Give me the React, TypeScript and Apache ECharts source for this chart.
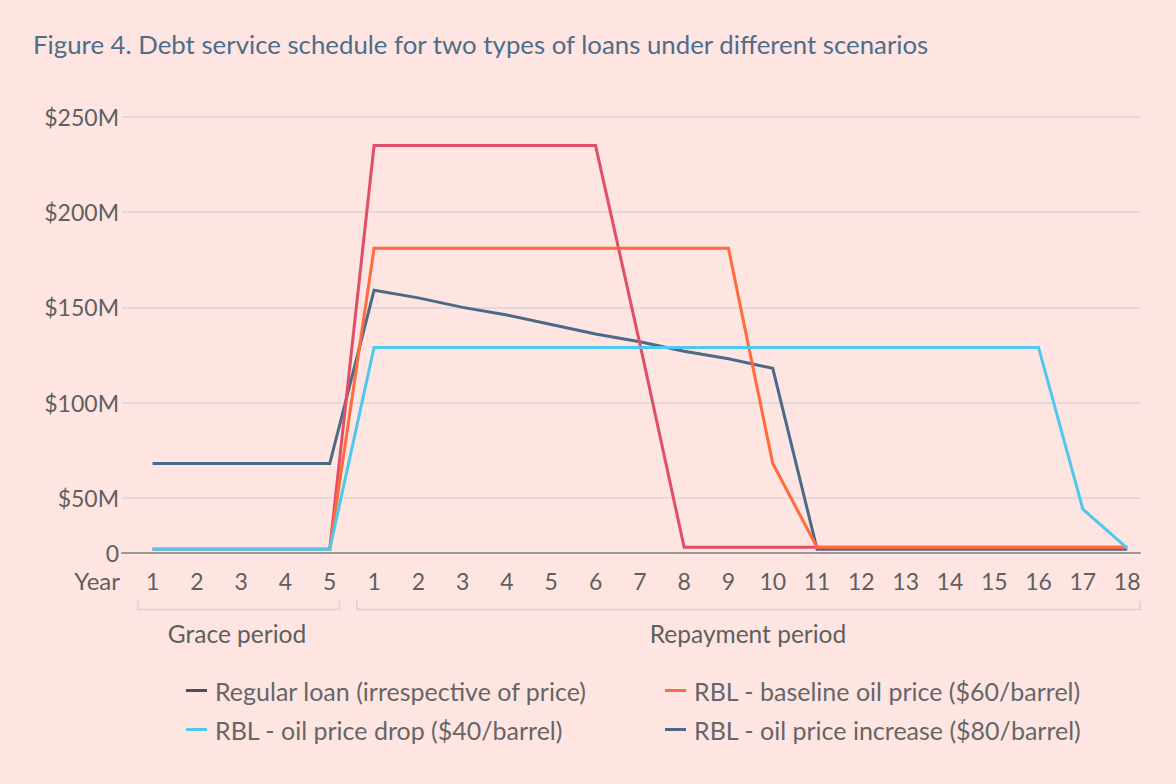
import React, { useEffect, useRef } from "react";
import * as echarts from "echarts";

const xLabels = ["1","2","3","4","5","1","2","3","4","5","6","7","8","9","10","11","12","13","14","15","16","17","18"];

const regularLoan = [68,68,68,68,68,159,155,150,146,141,136,132,127,123,118,23,23,23,23,23,23,23,23];
const rblIncrease = [23,23,23,23,23,235,235,235,235,235,235,131,24,24,24,24,24,24,24,24,24,24,24];
const rblBaseline = [23,23,23,23,23,181,181,181,181,181,181,181,181,181,68,24,24,24,24,24,24,24,24];
const rblDrop = [23,23,23,23,23,129,129,129,129,129,129,129,129,129,129,129,129,129,129,129,129,44,23.5];

const yTicks = [50, 100, 150, 200, 250];
const yLabelValues = [21, 50, 100, 150, 200, 250];

const NAMES = {
  regular: "Regular loan (irrespective of price)",
  baseline: "RBL - baseline oil price ($60/barrel)",
  drop: "RBL - oil price drop ($40/barrel)",
  increase: "RBL - oil price increase ($80/barrel)",
};

const FONT = "Lato";
const TEXT_COLOR = "#5f5f5f";

export default function App() {
  const ref = useRef<HTMLDivElement>(null);
  useEffect(() => {
    if (!ref.current) return;
    const chart = echarts.init(ref.current, undefined, { renderer: "svg" });
    const toPairs = (arr: number[]) => arr.map((v, i) => [i, v]);
    const mkSeries = (name: string, data: number[], color: string) => ({
      type: "line",
      name,
      data: toPairs(data),
      symbol: "none",
      lineStyle: { color, width: 3, join: "miter" },
      itemStyle: { color },
    });
    const legendText = { fontSize: 25, color: "#666", fontFamily: FONT, lineHeight: 25, padding: [0, 0, 0, 3] };
    chart.setOption({
      animation: false,
      backgroundColor: "#fee5e2",
      title: {
        text: "Figure 4. Debt service schedule for two types of loans under different scenarios",
        left: 33,
        top: 31,
        padding: 0,
        textStyle: { fontSize: 25.8, color: "#4d6d8a", fontWeight: "normal", fontFamily: FONT },
      },
      grid: { left: 122, right: 36, top: 117, bottom: 231 },
      xAxis: {
        type: "value",
        min: -0.69,
        max: 22.29,
        splitLine: { show: false },
        axisTick: { show: false },
        axisLine: { show: true, onZero: false, lineStyle: { color: "#9b9797", width: 2 } },
        axisLabel: {
          customValues: xLabels.map((_, i) => i),
          formatter: (v: number) => xLabels[Math.round(v)],
          fontSize: 23,
          color: TEXT_COLOR,
          fontFamily: FONT,
          margin: 16,
        },
      },
      yAxis: {
        type: "value",
        min: 21,
        max: 250,
        axisLine: { show: false },
        axisTick: { show: false, customValues: yTicks },
        splitLine: { show: true, lineStyle: { color: "#d9d5d5", width: 1.5 } },
        axisLabel: {
          customValues: yLabelValues,
          formatter: (v: number) => (v === 21 ? "0" : `$${v}M`),
          fontSize: 23,
          color: TEXT_COLOR,
          fontFamily: FONT,
          margin: 3,
        },
      },
      legend: [
        {
          orient: "vertical",
          left: 181,
          top: 673,
          itemWidth: 21,
          itemHeight: 3,
          itemGap: 14,
          icon: "rect",
          textStyle: legendText,
          data: [
            { name: NAMES.regular, itemStyle: { color: "#4f4f57" } },
            { name: NAMES.drop, itemStyle: { color: "#4ec8ee" } },
          ],
        },
        {
          orient: "vertical",
          left: 660,
          top: 673,
          itemWidth: 21,
          itemHeight: 3,
          itemGap: 14,
          icon: "rect",
          textStyle: legendText,
          data: [
            { name: NAMES.baseline, itemStyle: { color: "#ff6b3d" } },
            { name: NAMES.increase, itemStyle: { color: "#4b6a88" } },
          ],
        },
      ],
      series: [
        mkSeries(NAMES.regular, regularLoan, "#4b6a88"),
        mkSeries(NAMES.increase, rblIncrease, "#e14e66"),
        mkSeries(NAMES.baseline, rblBaseline, "#ff6b3d"),
        mkSeries(NAMES.drop, rblDrop, "#4ec8ee"),
      ],
      graphic: [
        {
          type: "text",
          x: 120,
          y: 580,
          style: { text: "Year", fontSize: 24, fill: TEXT_COLOR, fontFamily: FONT, align: "right", verticalAlign: "middle" },
        },
        {
          type: "polyline",
          shape: { points: [[138, 601], [138, 609.5], [339.5, 609.5], [339.5, 601]] },
          style: { stroke: "#d6d2d2", lineWidth: 1.5, fill: null },
        },
        {
          type: "polyline",
          shape: { points: [[357, 601], [357, 609.5], [1140, 609.5], [1140, 601]] },
          style: { stroke: "#d6d2d2", lineWidth: 1.5, fill: null },
        },
        {
          type: "text",
          x: 237,
          y: 633,
          style: { text: "Grace period", fontSize: 24.5, fill: TEXT_COLOR, fontFamily: FONT, align: "center", verticalAlign: "middle" },
        },
        {
          type: "text",
          x: 748,
          y: 633,
          style: { text: "Repayment period", fontSize: 24.5, fill: TEXT_COLOR, fontFamily: FONT, align: "center", verticalAlign: "middle" },
        },
      ],
    });
    return () => chart.dispose();
  }, []);
  return (
    <div
      ref={ref}
      style={{ position: "fixed", left: 0, top: 0, width: 1176, height: 784 }}
    />
  );
}
